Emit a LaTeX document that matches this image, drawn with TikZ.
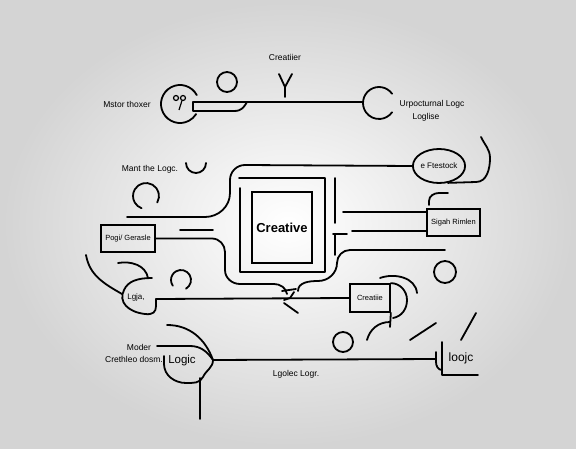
\documentclass[tikz,border=0pt]{standalone}
\usepackage{fontspec}
\setmainfont{Liberation Sans}
\usetikzlibrary{shapes.geometric}
\tikzset{
  wire/.style={line width=1.8pt, line cap=round, line join=round},
  lbl/.style={font=\fontsize{8.5}{10}\selectfont, inner sep=0pt},
  tagbox/.style={draw, line width=1.7pt, inner sep=0pt, font=\fontsize{7.5}{9}\selectfont},
}
\begin{document}
\begin{tikzpicture}[x=1pt,y=1pt]
\useasboundingbox (0,0) rectangle (576,448);
\shade[inner color=white, outer color=black!17] (0,0) rectangle (576,448);

% top row
\node[lbl] (creatiier) at (285,391) {Creatiier};
\draw[wire] (279,374) -- (285,361) -- (292,374) (285,361) -- (285,351);
\draw[wire] (227,366) circle[radius=10];
\draw[wire] (180,344) ++(28:19) arc[start angle=28, end angle=328, radius=19];
\draw[line width=1.2pt] (176,350) circle[radius=2.5] (183,350) circle[radius=2.5];
\draw[line width=1.2pt] (182,347.5) .. controls (181,343) .. (179,338);
\node[lbl] (mstor) at (127,344) {Mstor thoxer};
\draw[wire] (193,346) -- (363,346);
\draw[wire] (193,346) -- (193,337) -- (234,337) .. controls (242,337) and (244,341) .. (247,346);
\draw[wire] (379,345) ++(35:16) arc[start angle=35, end angle=325, radius=16];
\node[lbl] (urpoc) at (432,344) {Urpocturnal Logc};
\node[lbl] (loglise) at (426,331) {Loglise};

% middle left
\node[lbl] (mant) at (150,279) {Mant the Logc.};
\draw[wire] (196,285) ++(180:10) arc[start angle=180, end angle=360, radius=10];
\draw[wire] (146,252) ++(-30:13) arc[start angle=-30, end angle=250, radius=13];
\node[draw, ellipse, line width=1.8pt, minimum width=48pt, minimum height=34pt,
  inner sep=0pt, font=\fontsize{8}{9}\selectfont] (ftestock) at (439,282) {e Ftestock};
\draw[wire] (127,231) -- (205,231) to[out=0,in=-90] (230,255) -- (230,268)
  to[out=90,in=180] (245,283) -- (ftestock.west);
\draw[wire] (ftestock.-62) -- (476,266) to[out=0,in=-90] (490,290) to[out=90,in=-65] (481,311);

% right boxes
\draw[wire] (429,243) -- (429,247) to[out=90,in=180] (439,255) -- (448,255);
\node[tagbox, minimum width=53pt, minimum height=27pt] (sigah) at (453.5,225.5) {Sigah Rimlen};
\coordinate (s1) at (343,236);
\coordinate (s2) at (352,217);
\draw[wire] (s1) -- (s1 -| sigah.west);
\draw[wire] (s2) -- (s2 -| sigah.west);
\draw[wire] (335,270) -- (335,225);
\draw[wire] (333,214) -- (347,214) (335,214) -- (335,193);
\draw[wire] (298,157) to[out=90,in=180] (318,167) to[out=0,in=-90] (337,185)
  to[out=90,in=180] (350,198) -- (445,198);

% centre
\node[draw, line width=1.8pt, minimum width=60pt, minimum height=71pt, inner sep=0pt,
  font=\fontsize{13}{15}\selectfont\bfseries] (creative) at (282,220.5) {Creative};
\draw[wire] (240,260) -- (240,176) -- (325,176) -- (325,270) -- (239,270);

\node[tagbox, minimum width=54pt, minimum height=27pt] (pogi) at (128,209.5) {Pogi/ Gerasle};
\draw[wire] (180,218) -- (213,218);
\draw[wire] (pogi.east) -- (212,209.5) to[out=0,in=90] (225,196) -- (225,178)
  to[out=-90,in=180] (240,164) -- (274,164) to[out=0,in=100] (287,154);

% junction
\draw[wire] (282,157) -- (296,159);
\draw[wire] (294,156) -- (290,150) -- (284,148);
\draw[wire] (284,145) -- (298,135);

% lower middle
\node[tagbox, minimum width=40pt, minimum height=28pt] (creatiie) at (370,150) {Creatiie};
\draw[wire] (156,149) -- (creatiie.west);
\draw[wire] (creatiie.north east) to[out=0,in=90] (407,148) to[out=-90,in=10] (393,130);
\draw[wire] (creatiie.south east) -- (390,121);
\draw[wire] (367,108) to[out=75,in=180] (390,126);
\draw[wire] (380,170) to[out=20,in=95] (417,155);
\draw[wire] (445,176) circle[radius=11];
\draw[wire] (343,106) circle[radius=10];
\draw[wire] (410,108) -- (436,125);
\draw[wire] (461,108) -- (476,135);

% logo blob
\node[lbl, font=\fontsize{8}{9}\selectfont] (lgja) at (136,151) {Lgja,};
\draw[wire] (152,170) .. controls (138,170) and (128,167) .. (124,158)
  .. controls (118,146) and (128,136) .. (145,134)
  .. controls (153,133) and (156,136) .. (156,142) -- (156,149);
\draw[wire] (86,193) to[out=-80,in=150] (122,154);
\draw[wire] (118,185) to[out=10,in=100] (148,170);
\draw[wire] (181,168) ++(-60:10) arc[start angle=-60, end angle=215, radius=10];

% bottom
\node[lbl, font=\fontsize{12}{13}\selectfont] (loojc) at (461,90) {loojc};
\draw[wire] (442,106) -- (442,73) -- (478,73);
\draw[wire] (436,96) -- (436,86) to[out=-90,in=180] (442,78);
\node[lbl, font=\fontsize{11.5}{13}\selectfont] (logic) at (182,87) {Logic};
\draw[wire] (164,92) -- (164,84) to[out=-90,in=180] (186,65) to[out=0,in=-115] (203,71)
  to[out=65,in=-90] (213,88);
\draw[wire] (200,70) -- (200,29);
\draw[wire] (213,88) -- (436,89);
\draw[wire] (167,123) to[out=0,in=110] (213,88);
\draw[wire] (157,102) -- (190,102) to[out=0,in=125] (213,88);
\node[lbl] (moder) at (139,101) {Moder};
\node[lbl] (crethleo) at (134,89) {Crethleo dosm.};
\node[lbl] (lgolec) at (296,74) {Lgolec Logr.};
\end{tikzpicture}
\end{document}
